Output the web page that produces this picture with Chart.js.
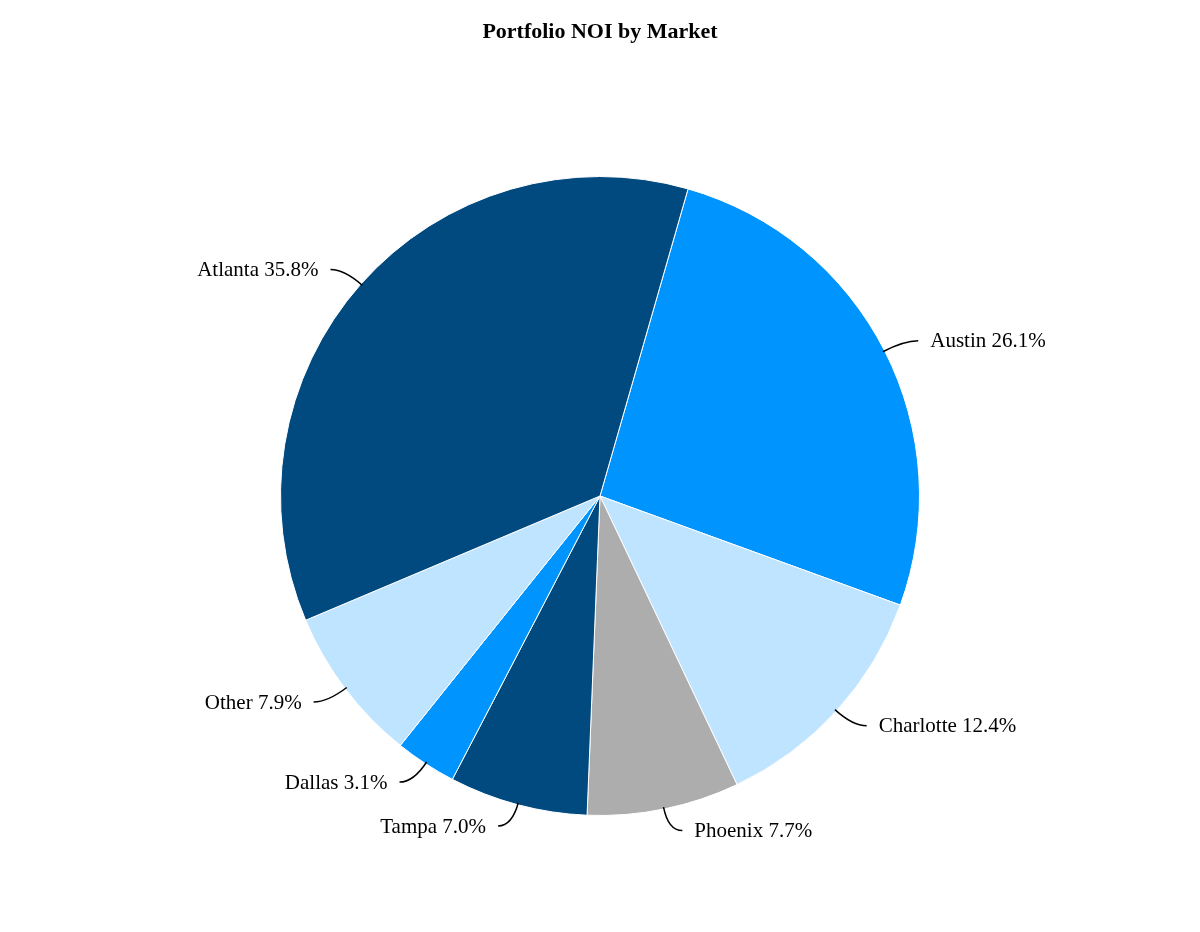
<!DOCTYPE html>
<html>
<head>
<meta charset="utf-8">
<script src="https://cdn.jsdelivr.net/npm/chart.js@4"></script>
<style>
  html, body { margin: 0; padding: 0; background: #fff; }
  #wrap { width: 1200px; height: 932px; }
</style>
</head>
<body>
<div id="wrap"><canvas id="pie" width="1200" height="932"></canvas></div>
<script>
// Market shares of NOI (%), clockwise from ~16 degrees past 12 o'clock
const markets = ["Austin", "Charlotte", "Phoenix", "Tampa", "Dallas", "Other", "Atlanta"];
const shares = [26.1, 12.4, 7.7, 7.0, 3.1, 7.9, 35.8];
const colors = ["#0094ff", "#bfe4ff", "#adadad", "#014a7f", "#0094ff", "#bfe4ff", "#014a7f"];

const serif = "'Liberation Serif', 'DejaVu Serif', serif";

// title and outside labels with curved leader lines
const labelPlugin = {
  id: "outsideLabels",
  afterDraw(chart) {
    const ctx = chart.ctx;
    ctx.save();
    ctx.fillStyle = "#000";
    ctx.font = "bold 22px " + serif;
    ctx.textAlign = "center";
    ctx.textBaseline = "middle";
    ctx.fillText("Portfolio NOI by Market", 600, 32);

    ctx.font = "21px " + serif;
    ctx.strokeStyle = "#000";
    ctx.lineWidth = 1.5;
    chart.getDatasetMeta(0).data.forEach((arc, i) => {
      const mid = (arc.startAngle + arc.endAngle) / 2;
      const r = arc.outerRadius;
      const cx = arc.x, cy = arc.y;
      const cos = Math.cos(mid), sin = Math.sin(mid);
      const x0 = cx + cos * (r - 2), y0 = cy + sin * (r - 2);
      const x1 = cx + cos * (r + 22), y1 = cy + sin * (r + 22);
      const side = cos >= 0 ? 1 : -1;
      const x2 = x1 + side * 10, y2 = y1;
      ctx.beginPath();
      ctx.moveTo(x0, y0);
      ctx.quadraticCurveTo(x1, y1, x2 + side * 4, y2);
      ctx.stroke();
      ctx.textAlign = side > 0 ? "left" : "right";
      ctx.fillText(markets[i] + " " + shares[i].toFixed(1) + "%", x2 + side * 16, y2 + 1);
    });
    ctx.restore();
  }
};

new Chart(document.getElementById("pie").getContext("2d"), {
  type: "pie",
  data: {
    labels: markets,
    datasets: [{
      data: shares,
      backgroundColor: colors,
      borderColor: "#ffffff",
      borderWidth: 1
    }]
  },
  options: {
    responsive: false,
    animation: false,
    rotation: 16,
    layout: { padding: { top: 176, bottom: 116, left: 280, right: 280 } },
    plugins: {
      legend: { display: false },
      title: { display: false },
      tooltip: { enabled: false }
    }
  },
  plugins: [labelPlugin]
});
</script>
</body>
</html>
